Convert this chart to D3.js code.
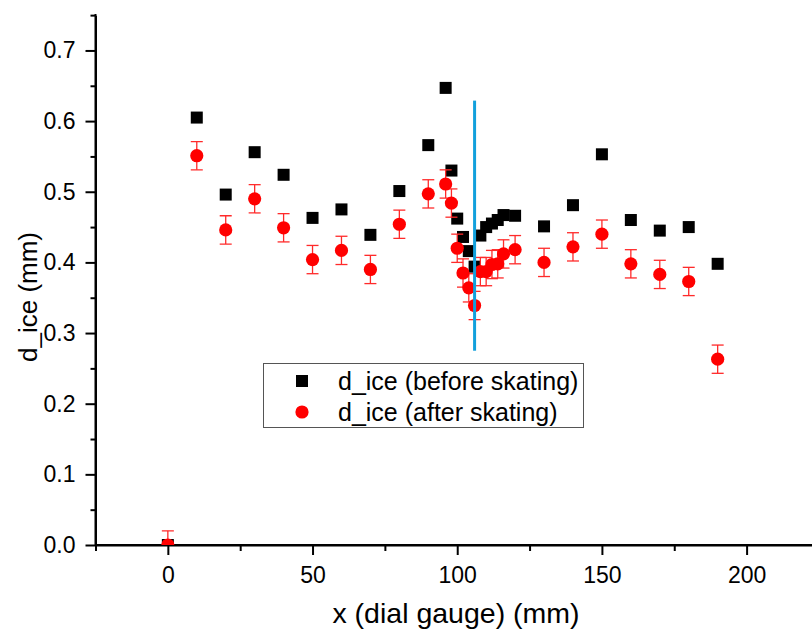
<!DOCTYPE html>
<html>
<head>
<meta charset="utf-8">
<script src="https://cdn.jsdelivr.net/npm/d3@7/dist/d3.min.js"></script>
<style>
  html, body { margin: 0; padding: 0; background: #fff; }
  svg { display: block; font-family: "Liberation Sans", Arial, sans-serif; }
</style>
</head>
<body>
<svg id="chart" width="812" height="632"></svg>
<script>
// Dial gauge positions (mm)
const dialX = [0, 10, 20, 30, 40, 50, 60, 70, 80, 90, 96, 98, 100, 102, 104, 106, 108, 110, 112, 114, 116, 120, 130, 140, 150, 160, 170, 180, 190];
// Ice thickness before skating (mm)
const iceBefore = [0, 0.605, 0.496, 0.556, 0.524, 0.463, 0.475, 0.439, 0.501, 0.566, 0.647, 0.530, 0.462, 0.436, 0.416, 0.394, 0.438, 0.450, 0.455, 0.460, 0.467, 0.466, 0.451, 0.481, 0.553, 0.460, 0.445, 0.450, 0.398];
// Ice thickness after skating (mm) and its uncertainty
const iceAfter = [0, 0.551, 0.446, 0.490, 0.449, 0.404, 0.417, 0.390, 0.454, 0.497, 0.511, 0.484, 0.420, 0.385, 0.364, 0.339, 0.387, 0.387, 0.397, 0.398, 0.412, 0.418, 0.400, 0.422, 0.440, 0.398, 0.383, 0.373, 0.263];
const iceAfterErr = [0.02, 0.02, 0.02, 0.02, 0.02, 0.02, 0.02, 0.02, 0.02, 0.02, 0.02, 0.02, 0.02, 0.02, 0.02, 0.02, 0.02, 0.02, 0.02, 0.02, 0.02, 0.02, 0.02, 0.02, 0.02, 0.02, 0.02, 0.02, 0.02];
// Vertical reference line
const markerX = 106;
const markerSpan = [0.275, 0.629];
// Axis ticks
const xTicks = [0, 50, 100, 150, 200];
const xMinorTicks = [-25, 25, 75, 125, 175];
const yTicks = [0, 0.1, 0.2, 0.3, 0.4, 0.5, 0.6, 0.7];
const yMinorTicks = [0.05, 0.15, 0.25, 0.35, 0.45, 0.55, 0.65, 0.75];
const seriesNames = ["d_ice (before skating)", "d_ice (after skating)"];

const svg = d3.select("#chart");
const plotLeft = 95.5, plotRight = 812, plotTop = 14, plotBottom = 545;

const x = d3.scaleLinear().domain([-25, 222.6]).range([plotLeft, plotRight]);
const y = d3.scaleLinear().domain([0, 0.75]).range([plotBottom, plotBottom - 0.75 * 706.5]);

svg.append("defs").append("clipPath").attr("id", "plotClip")
  .append("rect").attr("x", plotLeft).attr("y", 0).attr("width", plotRight - plotLeft).attr("height", plotBottom);

// Axes
const xAxis = svg.append("g").attr("transform", `translate(0,${plotBottom})`)
  .call(d3.axisBottom(x).tickValues(xTicks).tickFormat(d3.format("d")).tickSize(10).tickPadding(12).tickSizeOuter(0));
const xMinor = svg.append("g").attr("transform", `translate(0,${plotBottom})`)
  .call(d3.axisBottom(x).tickValues(xMinorTicks).tickFormat("").tickSize(6).tickSizeOuter(0));
const yAxis = svg.append("g").attr("transform", `translate(${plotLeft},0)`)
  .call(d3.axisLeft(y).tickValues(yTicks).tickFormat(d3.format(".1f")).tickSize(10).tickPadding(10).tickSizeOuter(0));
const yMinor = svg.append("g").attr("transform", `translate(${plotLeft},0)`)
  .call(d3.axisLeft(y).tickValues(yMinorTicks).tickFormat("").tickSize(5).tickSizeOuter(0));

[xAxis, xMinor, yAxis, yMinor].forEach(g => {
  g.selectAll(".domain").attr("stroke", "#000").attr("stroke-width", 2);
  g.selectAll(".tick line").attr("stroke", "#000").attr("stroke-width", 2);
  g.selectAll(".tick text").attr("fill", "#000").attr("font-size", 23)
    .attr("font-family", "'Liberation Sans', Arial, sans-serif");
});
xAxis.select(".domain").attr("d", `M${plotLeft},0H${plotRight}`);
yAxis.select(".domain").attr("d", `M0,${plotBottom}V${plotTop}`);

// Axis titles
svg.append("text").attr("x", 456).attr("y", 623).attr("text-anchor", "middle")
  .attr("font-size", 28.5).attr("fill", "#000").text("x (dial gauge) (mm)");
svg.append("text").attr("transform", "translate(37,297) rotate(-90)").attr("text-anchor", "middle")
  .attr("font-size", 26).attr("fill", "#000").text("d_ice (mm)");

const plot = svg.append("g").attr("clip-path", "url(#plotClip)");
const sq = 12, rad = 6.6, cap = 6;

// Before skating: black squares
plot.selectAll("rect.before").data(dialX).join("rect").attr("class", "before")
  .attr("x", (d) => x(d) - sq / 2)
  .attr("y", (d, i) => y(iceBefore[i]) - sq / 2)
  .attr("width", sq).attr("height", sq).attr("fill", "#000");

// After skating: error bars then red circles
const eb = plot.selectAll("g.err").data(dialX).join("g").attr("class", "err")
  .attr("stroke", "#ff2a2a").attr("stroke-width", 1.3);
eb.append("line")
  .attr("x1", d => x(d)).attr("x2", d => x(d))
  .attr("y1", (d, i) => y(iceAfter[i] - iceAfterErr[i]))
  .attr("y2", (d, i) => y(iceAfter[i] + iceAfterErr[i]));
eb.append("line")
  .attr("x1", d => x(d) - cap).attr("x2", d => x(d) + cap)
  .attr("y1", (d, i) => y(iceAfter[i] + iceAfterErr[i]))
  .attr("y2", (d, i) => y(iceAfter[i] + iceAfterErr[i]));
eb.append("line")
  .attr("x1", d => x(d) - cap).attr("x2", d => x(d) + cap)
  .attr("y1", (d, i) => y(iceAfter[i] - iceAfterErr[i]))
  .attr("y2", (d, i) => y(iceAfter[i] - iceAfterErr[i]));

plot.selectAll("circle.after").data(dialX).join("circle").attr("class", "after")
  .attr("cx", d => x(d))
  .attr("cy", (d, i) => y(iceAfter[i]))
  .attr("r", rad).attr("fill", "#ff0000");

// Vertical reference line
svg.append("line")
  .attr("x1", x(markerX)).attr("x2", x(markerX))
  .attr("y1", y(markerSpan[0])).attr("y2", y(markerSpan[1]))
  .attr("stroke", "#12a0dc").attr("stroke-width", 3);

// Legend
const lg = svg.append("g");
lg.append("rect").attr("x", 263.5).attr("y", 363.5).attr("width", 320).attr("height", 64)
  .attr("fill", "#fff").attr("stroke", "#555").attr("stroke-width", 1);
lg.append("rect").attr("x", 302 - sq / 2).attr("y", 381 - sq / 2).attr("width", sq).attr("height", sq).attr("fill", "#000");
lg.append("circle").attr("cx", 302).attr("cy", 412).attr("r", rad).attr("fill", "#ff0000");
lg.append("text").attr("x", 338).attr("y", 390).attr("font-size", 25).attr("fill", "#000").text(seriesNames[0]);
lg.append("text").attr("x", 338).attr("y", 421).attr("font-size", 25).attr("fill", "#000").text(seriesNames[1]);
</script>
</body>
</html>
